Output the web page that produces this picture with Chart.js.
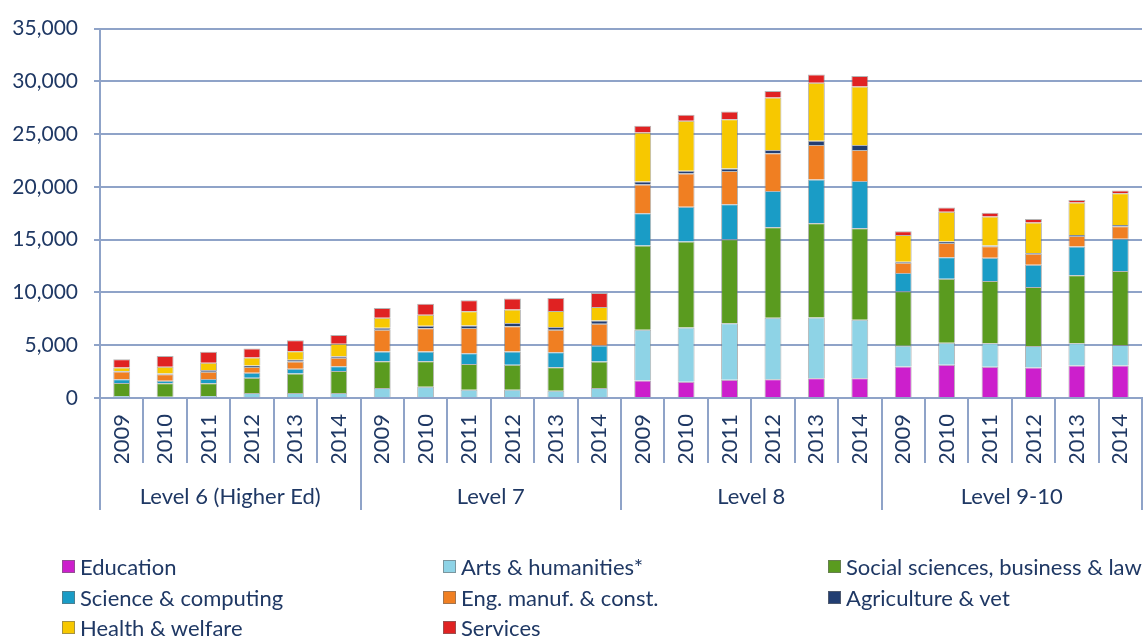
<!DOCTYPE html>
<html>
<head>
<meta charset="utf-8">
<script src="https://cdn.jsdelivr.net/npm/chart.js@4.4.1/dist/chart.umd.min.js"></script>
<style>
  html, body { margin: 0; padding: 0; background: #ffffff; }
  #wrap { position: relative; width: 1147px; height: 637px; }
  #legend { position: absolute; left: 0; top: 0; width: 1147px; height: 637px; pointer-events: none;
            font-family: Lato, "Open Sans", sans-serif; font-size: 22px; color: #1F3864; }
  .item { position: absolute; display: flex; align-items: center; white-space: nowrap; }
  .box { width: 13px; height: 13px; margin-right: 5px; box-sizing: border-box; border: 1px solid rgba(110,110,110,0.6); }
</style>
</head>
<body>
<div id="wrap">
  <canvas id="c" width="1147" height="637"></canvas>
  <div id="legend"></div>
</div>
<script>
// ---- data ----
const years = ["2009", "2010", "2011", "2012", "2013", "2014"];
const groups = ["Level 6 (Higher Ed)", "Level 7", "Level 8", "Level 9-10"];
const yTicks = [0, 5000, 10000, 15000, 20000, 25000, 30000, 35000];

const education  = [0,0,0,0,0,0,           0,0,0,0,0,0,                 1650,1550,1730,1770,1860,1860,  2980,3140,2950,2890,3080,3080];
const arts       = [200,130,190,480,480,480, 940,1070,790,790,690,940,  4810,5130,5360,5830,5770,5550,  1980,2100,2230,2040,2100,1950];
const social     = [1230,1260,1200,1450,1830,2080, 2540,2410,2440,2350,2220,2510, 7980,8140,7950,8580,8920,8670, 5150,6060,5900,5590,6440,7000];
const science    = [350,250,410,470,470,440, 920,920,1020,1270,1430,1520, 3060,3310,3310,3440,4160,4480,  1730,2040,2200,2100,2730,3050];
const eng        = [730,600,690,540,690,820, 2060,2220,2380,2380,2130,2060, 2740,3150,3150,3560,3250,2930, 970,1350,1100,1040,1010,1190];
const agri       = [60,90,160,130,160,130,   190,220,250,320,250,320,    280,250,250,320,410,470,        90,130,60,90,90,130];
const health     = [320,630,690,760,790,1200, 950,1050,1330,1270,1520,1270, 4640,4730,4670,4980,5490,5550, 2540,2830,2760,2890,3080,3010];
const services   = [790,1010,1040,850,1040,820, 920,1050,1050,1050,1240,1330, 630,570,730,600,790,1010,  350,410,350,310,220,250];

const seriesNames = ["Education", "Arts & humanities*", "Social sciences, business & law",
                     "Science & computing", "Eng. manuf. & const.", "Agriculture & vet",
                     "Health & welfare", "Services"];
const seriesColors = ["#CC1FCC", "#8ED3E6", "#5A9B1F", "#1A9CC6", "#F07F22", "#223E72", "#F7C800", "#E02222"];
const seriesData = [education, arts, social, science, eng, agri, health, services];

// ---- build ----
const labels = [];
groups.forEach(() => years.forEach(y => labels.push(y)));

const textColor = "#1F3864";
const gridColor = "#8FA3C8";
const fontFam = "Lato, 'Open Sans', sans-serif";

const datasets = seriesNames.map((n, i) => ({
  label: n,
  data: seriesData[i],
  backgroundColor: seriesColors[i],
  borderColor: "rgba(120,120,120,0.55)",
  borderWidth: 1,
  barPercentage: 0.39,
  categoryPercentage: 1.0,
  xAxisID: "x",
  yAxisID: "y"
}));

new Chart(document.getElementById("c"), {
  type: "bar",
  data: { labels: labels, datasets: datasets },
  options: {
    responsive: false,
    animation: false,
    events: [],
    layout: { padding: { top: 28, right: 5, bottom: 127, left: 0 } },
    plugins: { legend: { display: false }, tooltip: { enabled: false } },
    scales: {
      y: {
        stacked: true,
        min: 0, max: 35000,
        afterFit: s => { s.width = 100; },
        afterBuildTicks: s => { s.ticks = yTicks.map(v => ({ value: v })); },
        ticks: {
          padding: 16,
          color: textColor,
          font: { family: fontFam, size: 21 },
          callback: v => v.toLocaleString("en-US")
        },
        grid: { color: gridColor, lineWidth: 2, drawTicks: true, tickLength: 6 },
        border: { color: gridColor, width: 2 }
      },
      x: {
        stacked: true,
        weight: 0,
        afterFit: s => { s.height = 65; },
        ticks: {
          autoSkip: false, minRotation: 90, maxRotation: 90,
          padding: -49,
          color: textColor,
          font: { family: fontFam, size: 22 }
        },
        grid: { offset: true, drawOnChartArea: false, drawTicks: true, tickLength: 65, color: gridColor, lineWidth: 2 },
        border: { color: gridColor, width: 2 }
      },
      x2: {
        type: "category",
        position: "bottom",
        labels: groups,
        offset: true,
        weight: 1,
        afterFit: s => { s.height = 47; },
        ticks: {
          autoSkip: false, maxRotation: 0, minRotation: 0,
          padding: -26,
          color: textColor,
          font: { family: fontFam, size: 22 }
        },
        grid: { offset: true, drawOnChartArea: false, drawTicks: true, tickLength: 47, color: gridColor, lineWidth: 2 },
        border: { display: false }
      }
    }
  }
});

// ---- HTML legend (3 columns) ----
const legend = document.getElementById("legend");
const colX = [62, 443, 828];
const rowY = [566, 597, 627];
seriesNames.forEach((n, i) => {
  const it = document.createElement("div");
  it.className = "item";
  it.style.left = colX[i % 3] + "px";
  it.style.top = (rowY[Math.floor(i / 3)] - 14) + "px";
  it.style.height = "28px";
  const b = document.createElement("span");
  b.className = "box";
  b.style.background = seriesColors[i];
  const t = document.createElement("span");
  t.textContent = n;
  it.appendChild(b); it.appendChild(t);
  legend.appendChild(it);
});
</script>
</body>
</html>
